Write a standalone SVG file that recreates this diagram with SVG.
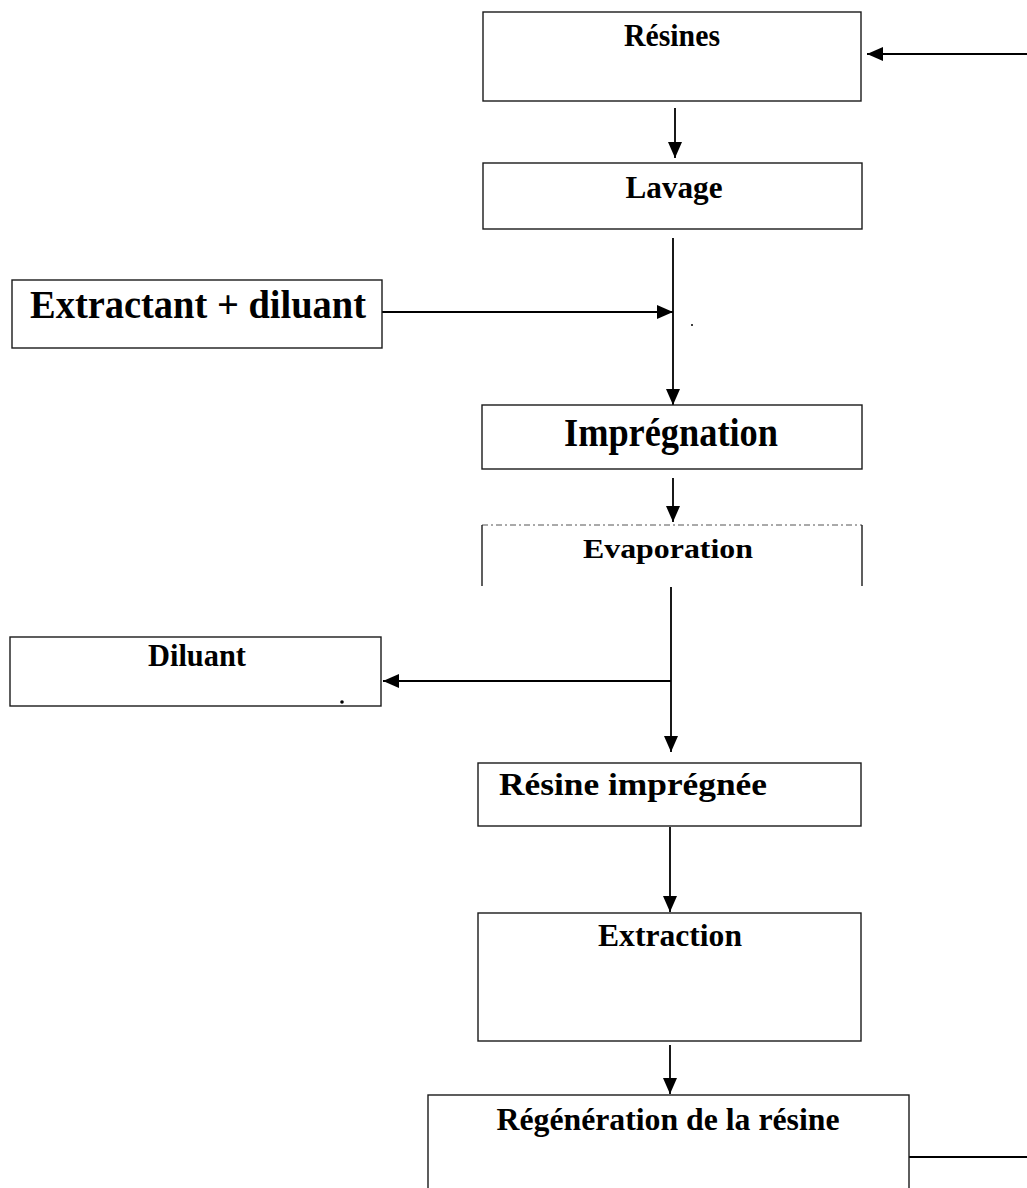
<svg xmlns="http://www.w3.org/2000/svg" width="1027" height="1188" viewBox="0 0 1027 1188">
<defs>
<style>
.box{fill:#fff;stroke:#1a1a1a;stroke-width:1.4}
.t{font-family:"Liberation Serif","Times New Roman",serif;font-weight:bold;fill:#000}
.s{font-size:31px}
.l{font-size:39px}
.c{stroke:#000;stroke-width:1.8;fill:none}
</style>
<marker id="ah" viewBox="0 0 16 14" refX="16" refY="7" markerWidth="16" markerHeight="14" markerUnits="userSpaceOnUse" orient="auto">
<path d="M0,0 L16,7 L0,14 Z" fill="#000"/>
</marker>
</defs>
<rect width="1027" height="1188" fill="#fff"/>

<g id="connectors">
<line class="c" x1="1027" y1="54" x2="867" y2="54" marker-end="url(#ah)"/>
<line class="c" x1="675" y1="108" x2="675" y2="158" marker-end="url(#ah)"/>
<line class="c" x1="673" y1="238" x2="673" y2="405" marker-end="url(#ah)"/>
<line class="c" x1="382" y1="312" x2="673" y2="312" marker-end="url(#ah)"/>
<line class="c" x1="673" y1="478" x2="673" y2="522" marker-end="url(#ah)"/>
<line class="c" x1="671" y1="587" x2="671" y2="752" marker-end="url(#ah)"/>
<line class="c" x1="671" y1="681" x2="383" y2="681" marker-end="url(#ah)"/>
<line class="c" x1="670" y1="827" x2="670" y2="912" marker-end="url(#ah)"/>
<line class="c" x1="670" y1="1045" x2="670" y2="1094" marker-end="url(#ah)"/>
<line class="c" x1="909" y1="1157" x2="1027" y2="1157"/>
</g>

<g id="resines">
<rect class="box" x="483" y="12" width="378" height="89"/>
<text class="t s" x="672" y="46" text-anchor="middle" textLength="96" lengthAdjust="spacingAndGlyphs">Résines</text>
</g>

<g id="lavage">
<rect class="box" x="483" y="163" width="379" height="66"/>
<text class="t s" x="674" y="198" text-anchor="middle" textLength="97" lengthAdjust="spacingAndGlyphs">Lavage</text>
</g>

<g id="extractant">
<rect class="box" x="12" y="280" width="370" height="68"/>
<text class="t l" x="198" y="318" text-anchor="middle" textLength="336" lengthAdjust="spacingAndGlyphs">Extractant + diluant</text>
</g>
<circle cx="692" cy="325" r="1" fill="#000"/>

<g id="impregnation">
<rect class="box" x="482" y="405" width="380" height="64"/>
<text class="t l" x="671" y="446" text-anchor="middle" textLength="214" lengthAdjust="spacingAndGlyphs">Imprégnation</text>
</g>

<g id="evaporation">
<line x1="482" y1="525" x2="862" y2="525" stroke="#555" stroke-width="1" stroke-dasharray="6,3,2,3"/>
<line x1="482" y1="525" x2="482" y2="586" stroke="#1a1a1a" stroke-width="1.4"/>
<line x1="862" y1="525" x2="862" y2="586" stroke="#1a1a1a" stroke-width="1.4"/>
<text class="t" font-size="27" x="668" y="558" text-anchor="middle" textLength="170" lengthAdjust="spacingAndGlyphs">Evaporation</text>
</g>

<g id="diluant">
<rect class="box" x="10" y="637" width="371" height="69"/>
<text class="t s" x="197" y="666" text-anchor="middle" textLength="98" lengthAdjust="spacingAndGlyphs">Diluant</text>
<circle cx="342" cy="702" r="1.8" fill="#000"/>
</g>

<g id="resine-impregnee">
<rect class="box" x="478" y="763" width="383" height="63"/>
<text class="t s" x="633" y="795" text-anchor="middle" textLength="268" lengthAdjust="spacingAndGlyphs">Résine imprégnée</text>
</g>

<g id="extraction">
<rect class="box" x="478" y="913" width="383" height="128"/>
<text class="t s" x="670" y="946" text-anchor="middle" textLength="144" lengthAdjust="spacingAndGlyphs">Extraction</text>
</g>

<g id="regeneration">
<rect class="box" x="428" y="1095" width="481" height="100"/>
<text class="t s" x="668" y="1130" text-anchor="middle" textLength="343" lengthAdjust="spacingAndGlyphs">Régénération de la résine</text>
</g>
</svg>
